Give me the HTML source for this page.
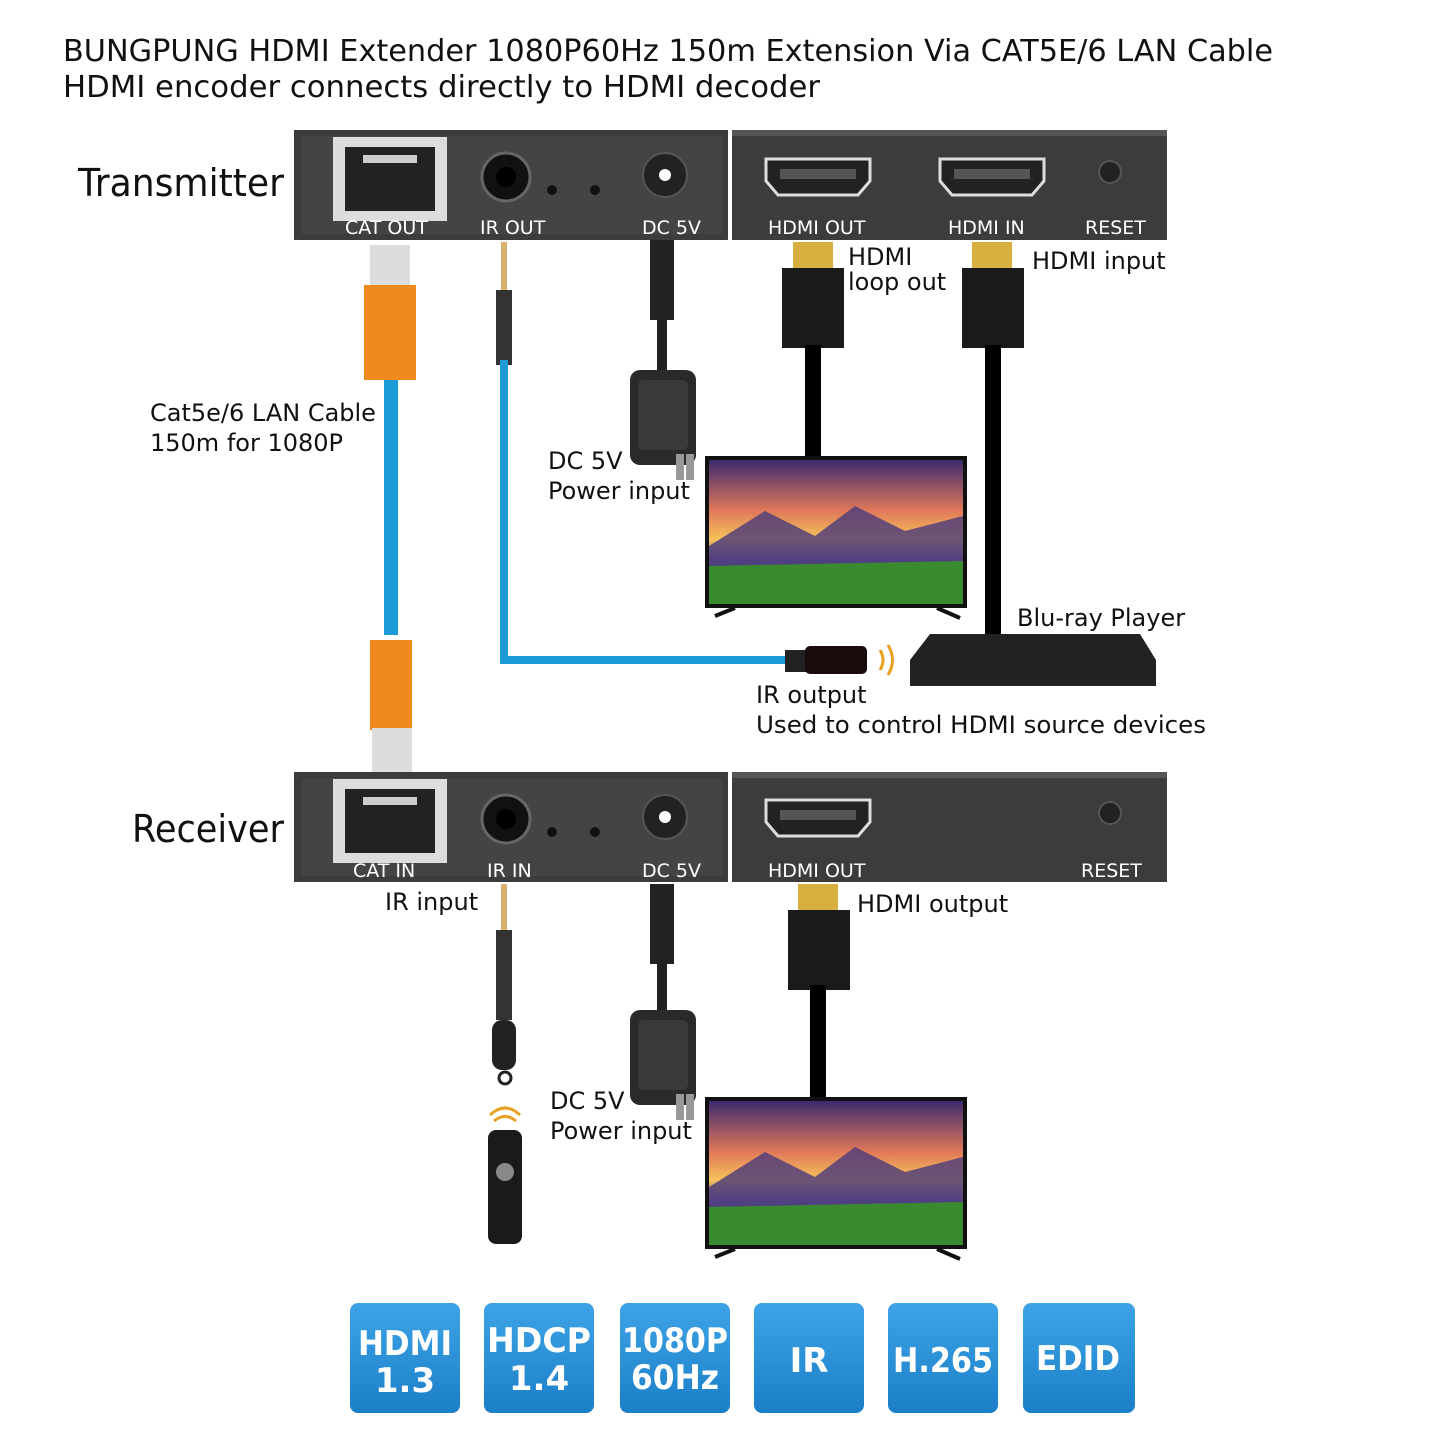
<!DOCTYPE html>
<html><head><meta charset="utf-8"><style>
body{margin:0;background:#fff;}
svg text{font-family:"DejaVu Sans","Liberation Sans",sans-serif;}
</style></head><body>
<svg width="1440" height="1440" viewBox="0 0 1440 1440" xmlns="http://www.w3.org/2000/svg">
<defs>
<linearGradient id="sky" x1="0" y1="0" x2="0" y2="1">
<stop offset="0" stop-color="#3b2a6e"/><stop offset="0.35" stop-color="#e0785a"/><stop offset="0.55" stop-color="#f6c25a"/><stop offset="0.7" stop-color="#6a5aa0"/><stop offset="0.85" stop-color="#3e8a2e"/><stop offset="1" stop-color="#c84a7a"/>
</linearGradient>
<linearGradient id="badge" x1="0" y1="0" x2="0" y2="1"><stop offset="0" stop-color="#3ea3e6"/><stop offset="1" stop-color="#1b7fc8"/></linearGradient>
<g id="tv">
<rect x="0" y="0" width="262" height="152" fill="#111"/>
<rect x="4" y="4" width="254" height="144" fill="url(#sky)"/>
<path d="M4 90 L60 55 L110 80 L150 50 L200 75 L258 60 L258 110 L4 110Z" fill="#4a3a7a" opacity="0.8"/>
<path d="M4 110 L258 105 L258 148 L4 148Z" fill="#3a8a30"/>
<path d="M10 160 L30 152 M232 152 L255 162" stroke="#111" stroke-width="4"/>
</g>
<g id="hdmiport"><path d="M0 0 H104 V22 L92 36 H12 L0 22Z" fill="#222" stroke="#ddd" stroke-width="3"/><rect x="14" y="10" width="76" height="10" fill="#555"/></g>
<g id="rj45"><rect x="0" y="0" width="114" height="84" fill="#ddd"/><rect x="12" y="10" width="90" height="64" fill="#222"/><rect x="30" y="18" width="54" height="8" fill="#ccc"/></g>
<g id="adapter"><rect x="0" y="0" width="66" height="95" rx="10" fill="#2a2a2a"/><rect x="8" y="10" width="50" height="70" rx="6" fill="#3a3a3a"/><rect x="46" y="84" width="8" height="26" fill="#999"/><rect x="56" y="84" width="8" height="26" fill="#999"/></g>
</defs>

<text x="63" y="61" font-size="30" fill="#111" textLength="1210" lengthAdjust="spacingAndGlyphs">BUNGPUNG HDMI Extender 1080P60Hz 150m Extension Via CAT5E/6 LAN Cable</text>
<text x="63" y="97" font-size="30" fill="#111" textLength="757" lengthAdjust="spacingAndGlyphs">HDMI encoder connects directly to HDMI decoder</text>

<!-- Transmitter -->
<text x="78" y="196" font-size="38" fill="#111" textLength="206" lengthAdjust="spacingAndGlyphs">Transmitter</text>
<rect x="294" y="130" width="434" height="110" fill="#3c3c3c"/>
<rect x="302" y="136" width="420" height="98" fill="#444"/>
<rect x="732" y="130" width="435" height="110" fill="#3c3c3c"/>
<rect x="732" y="130" width="435" height="6" fill="#555"/>
<use href="#rj45" x="333" y="137"/>
<circle cx="506" cy="177" r="24" fill="#111" stroke="#666" stroke-width="3"/><circle cx="506" cy="177" r="10" fill="#000"/>
<circle cx="552" cy="190" r="5" fill="#111"/><circle cx="595" cy="190" r="5" fill="#111"/>
<circle cx="665" cy="175" r="22" fill="#222" stroke="#555" stroke-width="2"/><circle cx="665" cy="175" r="6" fill="#fff"/>
<use href="#hdmiport" x="766" y="159"/><use href="#hdmiport" x="940" y="159"/>
<circle cx="1110" cy="172" r="11" fill="#222" stroke="#555" stroke-width="2"/>
<g font-size="19" fill="#fff" font-family="Liberation Serif,serif">
<text x="345" y="234">CAT OUT</text><text x="480" y="234">IR OUT</text><text x="642" y="234">DC 5V</text>
<text x="768" y="234">HDMI OUT</text><text x="948" y="234">HDMI IN</text><text x="1085" y="234">RESET</text></g>

<!-- LAN cable -->
<rect x="384" y="380" width="14" height="255" fill="#1d9ad8"/>
<rect x="370" y="245" width="40" height="42" fill="#ddd"/>
<path d="M364 285 H416 V380 H364Z" fill="#f08a20"/>
<path d="M370 640 H412 V730 H370Z" fill="#f08a20"/>
<rect x="372" y="728" width="40" height="48" fill="#ddd"/>

<!-- IR cable transmitter -->
<rect x="501" y="242" width="6" height="50" fill="#d8b070"/>
<rect x="496" y="290" width="16" height="75" fill="#333"/>
<path d="M504 360 V660 H800" fill="none" stroke="#1d9ad8" stroke-width="8"/>
<rect x="785" y="650" width="25" height="22" fill="#222"/>
<rect x="805" y="646" width="62" height="28" rx="5" fill="#1a0a0a"/>
<path d="M880 650 q6 10 0 20 M888 645 q9 15 0 30" stroke="#e8a020" stroke-width="3" fill="none"/>

<!-- DC -->
<rect x="650" y="240" width="24" height="80" fill="#222"/>
<path d="M662 320 V380" stroke="#222" stroke-width="10"/>
<use href="#adapter" x="630" y="370"/>
<text x="548" y="469" font-size="24" fill="#111">DC 5V</text>
<text x="548" y="499" font-size="24" fill="#111">Power input</text>

<!-- HDMI cables -->
<rect x="793" y="242" width="40" height="28" fill="#d8b040"/>
<rect x="782" y="268" width="62" height="80" fill="#1a1a1a"/>
<rect x="805" y="345" width="16" height="112" fill="#000"/>
<rect x="972" y="242" width="40" height="28" fill="#d8b040"/>
<rect x="962" y="268" width="62" height="80" fill="#1a1a1a"/>
<rect x="985" y="345" width="16" height="290" fill="#000"/>
<text x="848" y="265" font-size="24" fill="#111">HDMI</text>
<text x="848" y="290" font-size="24" fill="#111">loop out</text>
<text x="1032" y="269" font-size="24" fill="#111">HDMI input</text>

<use href="#tv" x="705" y="456"/>

<text x="150" y="421" font-size="24" fill="#111">Cat5e/6 LAN Cable</text>
<text x="150" y="451" font-size="24" fill="#111">150m for 1080P</text>

<!-- Blu-ray -->
<text x="1017" y="626" font-size="24" fill="#111">Blu-ray Player</text>
<path d="M910 660 L930 634 H1140 L1156 660 V686 H910Z" fill="#222"/>
<text x="756" y="703" font-size="24" fill="#111">IR output</text>
<text x="756" y="733" font-size="24" fill="#111" textLength="450" lengthAdjust="spacingAndGlyphs">Used to control HDMI source devices</text>

<!-- Receiver -->
<text x="132" y="842" font-size="38" fill="#111" textLength="152" lengthAdjust="spacingAndGlyphs">Receiver</text>
<rect x="294" y="772" width="434" height="110" fill="#3c3c3c"/>
<rect x="302" y="778" width="420" height="98" fill="#444"/>
<rect x="732" y="772" width="435" height="110" fill="#3c3c3c"/>
<rect x="732" y="772" width="435" height="6" fill="#555"/>
<use href="#rj45" x="333" y="779"/>
<circle cx="506" cy="819" r="24" fill="#111" stroke="#666" stroke-width="3"/><circle cx="506" cy="819" r="10" fill="#000"/>
<circle cx="552" cy="832" r="5" fill="#111"/><circle cx="595" cy="832" r="5" fill="#111"/>
<circle cx="665" cy="817" r="22" fill="#222" stroke="#555" stroke-width="2"/><circle cx="665" cy="817" r="6" fill="#fff"/>
<use href="#hdmiport" x="766" y="800"/>
<circle cx="1110" cy="813" r="11" fill="#222" stroke="#555" stroke-width="2"/>
<g font-size="19" fill="#fff" font-family="Liberation Serif,serif">
<text x="353" y="877">CAT IN</text><text x="487" y="877">IR IN</text><text x="642" y="877">DC 5V</text>
<text x="768" y="877">HDMI OUT</text><text x="1081" y="877">RESET</text></g>

<text x="385" y="910" font-size="24" fill="#111">IR input</text>
<rect x="501" y="884" width="6" height="50" fill="#d8b070"/>
<rect x="496" y="930" width="16" height="90" fill="#333"/>
<rect x="492" y="1020" width="24" height="50" rx="10" fill="#222"/>
<circle cx="505" cy="1078" r="6" fill="none" stroke="#222" stroke-width="3"/>
<path d="M490 1115 q15 -14 30 0 M494 1121 q11 -9 22 0" stroke="#e8a020" stroke-width="3" fill="none"/>
<rect x="488" y="1130" width="34" height="114" rx="8" fill="#1a1a1a"/>
<circle cx="505" cy="1172" r="9" fill="#888"/>

<rect x="650" y="884" width="24" height="80" fill="#222"/>
<path d="M662 960 V1020" stroke="#222" stroke-width="10"/>
<use href="#adapter" x="630" y="1010"/>
<text x="550" y="1109" font-size="24" fill="#111">DC 5V</text>
<text x="550" y="1139" font-size="24" fill="#111">Power input</text>

<rect x="798" y="884" width="40" height="28" fill="#d8b040"/>
<rect x="788" y="910" width="62" height="80" fill="#1a1a1a"/>
<rect x="810" y="985" width="16" height="112" fill="#000"/>
<text x="857" y="912" font-size="24" fill="#111">HDMI output</text>
<use href="#tv" x="705" y="1097"/>

<!-- badges -->
<g font-weight="bold" fill="#fff" text-anchor="middle" font-size="34">
<rect x="350" y="1303" width="110" height="110" rx="8" fill="url(#badge)"/>
<text x="405" y="1355" textLength="94" lengthAdjust="spacingAndGlyphs">HDMI</text><text x="405" y="1392">1.3</text>
<rect x="484" y="1303" width="110" height="110" rx="8" fill="url(#badge)"/>
<text x="539" y="1352" textLength="104" lengthAdjust="spacingAndGlyphs">HDCP</text><text x="539" y="1390">1.4</text>
<rect x="620" y="1303" width="110" height="110" rx="8" fill="url(#badge)"/>
<text x="675" y="1352" textLength="106" lengthAdjust="spacingAndGlyphs">1080P</text><text x="675" y="1389" textLength="88" lengthAdjust="spacingAndGlyphs">60Hz</text>
<rect x="754" y="1303" width="110" height="110" rx="8" fill="url(#badge)"/>
<text x="809" y="1372">IR</text>
<rect x="888" y="1303" width="110" height="110" rx="8" fill="url(#badge)"/>
<text x="943" y="1372" textLength="100" lengthAdjust="spacingAndGlyphs">H.265</text>
<rect x="1023" y="1303" width="112" height="110" rx="8" fill="url(#badge)"/>
<text x="1078" y="1370" textLength="84" lengthAdjust="spacingAndGlyphs">EDID</text>
</g>
</svg>
</body></html>
